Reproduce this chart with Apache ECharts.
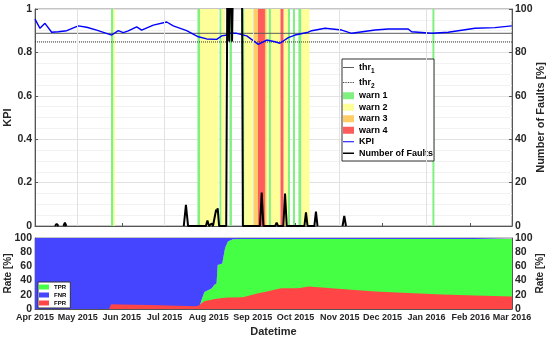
<!DOCTYPE html>
<html><head><meta charset="utf-8">
<script src="https://cdn.jsdelivr.net/npm/echarts@6/dist/echarts.min.js"></script>
<style>html,body{margin:0;padding:0;background:#fff}#c{width:550px;height:337px}</style>
</head><body><div id="c"></div>
<script>
// ---- data (days counted from 2015-04-01) ----
const startDate = [2015, 3, 1];   // Apr 1 2015
const endDate = [2016, 2, 1];     // Mar 1 2016
const gridMonths = [[2015, 4, 1], [2015, 6, 1], [2015, 8, 1], [2015, 10, 1], [2016, 0, 1]]; // May, Jul, Sep, Nov, Jan

const kpiDay = [0,3.5,7,8.2,11.7,16.4,22.3,30.4,36.3,43.3,53.9,58.5,62,65.5,71.4,74.9,83.1,92.5,97.1,106.5,114.7,120.6,127.6,131.1,134.6,136.9,141.6,148.7,156.8,162.7,168.5,172,177.9,182.6,183.8,191.9,194.3,203.7,215.4,222.4,238.8,248.1,262.1,264.5,278.6,290.2,309,323,334.8];
const kpiVal = [0.953,0.911,0.934,0.941,0.893,0.895,0.900,0.922,0.916,0.903,0.880,0.900,0.891,0.899,0.918,0.903,0.926,0.940,0.922,0.900,0.872,0.862,0.860,0.876,0.880,0.888,0.888,0.876,0.837,0.857,0.849,0.842,0.868,0.880,0.885,0.893,0.900,0.911,0.903,0.888,0.903,0.908,0.908,0.895,0.888,0.893,0.911,0.914,0.922];

const thrNames = ['thr1', 'thr2'];
const thrVal = [0.888, 0.848];

const bandStart = [53.4,55.1,114.1,115.9,129.6,131,136.6,145.4,147.1,153.4,156.6,161.5,162.6,164,165.7,172.4,174.5,177.7,181.2,185,187.1,279.1];
const bandEnd   = [55.1,56.2,115.9,128.9,131,133.4,138.3,147.1,153.4,156.6,161.5,162.6,164,165.7,172.4,174.5,177.7,179.1,182.6,187.1,192.8,280.5];
const bandLevel = [1,2,1,2,1,2,1,1,2,3,4,3,2,1,2,4,2,1,1,1,2,1];
const warnNames = ['warn 1','warn 2','warn 3','warn 4'];

// null = break in the line
const faultDay = [14,15.2,16.5,18,20,21,22,60,104.5,106,107.5,111,112.4,113.5,120,121.1,122.2,123.3,124.1,125,126.3,127.2,127.8,128.3,129.3,132,133,134.3,135.2,136.4,137.4,138.4,139.4,145.3,146,158,159.2,160.4,168.7,169.7,170.7,174.4,175.6,176.8,179.5,180.3,181,189.2,190.3,191.4,196.2,197.3,198.4,205,216,217.2,218.4];
const faultVal = [0,1,0,null,0,1.5,0,null,0,9.7,0,0,0.6,0,0,2.5,0,0,1.2,0,0,7.5,6.5,8.2,0,0,0.8,0,130,85,130,85,130,130,0,0,15.4,0,0,1.5,0,0,15,0,0,0.6,0,0,6.3,0,0,6.6,0,null,0,4.6,0];

const rateDay = [0,52,53.5,60,80,100,113,115,117,119,124,126,127.5,128.3,131.5,133.5,135.5,139,146,156,163,168,173,183,186,192,199,215,239,262,286,309,335];
const tprVal = [0,0,0,0,0,0,0,0,13,24,29,34,36,62,64,86,95,98.3,98.5,98.5,98.5,98.5,98.5,98.5,98.5,98.5,98.5,98.5,98.5,98.5,98.5,98.5,98.5];
const fnrVal = [100,100,100,100,100,100,100,100,87,76,71,66,64,38,36,14,5,1.7,1.5,1.5,1.5,1.5,1.5,1.5,1.5,1.5,1.5,1.5,1.5,1.5,1.5,1.5,1.5];
const fprVal = [0,0,6.7,6.5,5.5,4.5,3.8,5,8,11,13,14,14.5,15,15.5,16,16.3,16.3,16.5,22,24.7,27,29.2,29.3,29.7,31.7,30.8,28,24.7,22.4,20.5,19,17.7];
const rateNames = ['TPR','FNR','FPR'];

// ---- styles ----
const FONT = 'Liberation Sans, Arial, sans-serif';
const warnColors = ['#80f080','#ffff99','#ffcc66','#ff5c5c'];
const rateColors = ['#44ff44','#4545ff','#ff4545'];
const DAY = 86400000;
const t0 = new Date(startDate[0], startDate[1], startDate[2]).getTime();
const tEnd = new Date(endDate[0], endDate[1], endDate[2]).getTime();
const toT = d => t0 + d * DAY;

// legend line icons (tiny invisible corner dots keep the icon box height)
const corners = 'M0,-5h0.01v0.01h-0.01z M0,4.99h0.01v0.01h-0.01z ';
const iconSolid = w => 'path://' + corners + 'M0,' + (-w / 2) + 'h20v' + w + 'h-20z';
let dots = '';
for (let x = 0; x < 20; x += 3) dots += 'M' + x + ',-0.7h1.5v1.4h-1.5z ';
const iconDotted = 'path://' + corners + dots;

const labelStyle = {fontFamily: FONT, fontWeight: 'bold', color: '#262626'};
const nameStyle = {fontFamily: FONT, fontWeight: 'bold', fontSize: 11, color: '#262626'};

const chart = echarts.init(document.getElementById('c'), null, {renderer: 'canvas'});

const series = [];
// vertical major grid lines (behind bands)
series.push({
  type: 'line', xAxisIndex: 0, yAxisIndex: 0, data: [], z: 1, silent: true,
  markLine: {silent: true, symbol: 'none', label: {show: false},
    lineStyle: {color: '#e2e2e2', width: 1, type: 'solid'},
    data: gridMonths.map(m => ({xAxis: new Date(m[0], m[1], m[2]).getTime()}))}
});
thrNames.forEach((n, i) => {
  series.push({
    name: n, type: 'line', xAxisIndex: 0, yAxisIndex: 0, symbol: 'none', silent: true, z: 3,
    data: [[t0, thrVal[i]], [tEnd, thrVal[i]]],
    itemStyle: {color: i === 0 ? '#5a5a5a' : '#303030'},
    lineStyle: {color: i === 0 ? '#5a5a5a' : '#303030', width: 1, type: i === 0 ? 'solid' : 'dotted'}
  });
});
warnNames.forEach((n, k) => {
  const areas = [];
  bandStart.forEach((s, i) => {
    if (bandLevel[i] === k + 1) areas.push([{xAxis: toT(s)}, {xAxis: toT(bandEnd[i])}]);
  });
  series.push({
    name: n, type: 'line', xAxisIndex: 0, yAxisIndex: 0, data: [], symbol: 'none', z: 2,
    itemStyle: {color: warnColors[k]},
    markArea: {silent: true, itemStyle: {color: warnColors[k], opacity: 1}, data: areas}
  });
});
series.push({
  name: 'KPI', type: 'line', xAxisIndex: 0, yAxisIndex: 0, symbol: 'none', z: 4,
  data: kpiDay.map((d, i) => [toT(d), kpiVal[i]]),
  itemStyle: {color: '#0000ff'}, lineStyle: {color: '#0000ff', width: 1.4}
});
series.push({
  name: 'Number of Faults', type: 'line', xAxisIndex: 0, yAxisIndex: 1, symbol: 'none', z: 5,
  data: faultDay.map((d, i) => [toT(d), faultVal[i] === null ? '-' : faultVal[i]]),
  itemStyle: {color: '#000'}, lineStyle: {color: '#000', width: 2}
});
const rateVals = [tprVal, fnrVal, fprVal];
rateNames.forEach((n, k) => {
  series.push({
    name: n, type: 'line', xAxisIndex: 1, yAxisIndex: 2, symbol: 'none',
    stack: k < 2 ? 'rate' : undefined, z: k < 2 ? 2 : 3,
    data: rateDay.map((d, i) => [toT(d), rateVals[k][i]]),
    itemStyle: {color: rateColors[k]},
    lineStyle: {width: 0},
    areaStyle: {color: rateColors[k], opacity: 1}
  });
});

const xBase = {
  type: 'time', min: t0, max: tEnd, splitNumber: 11,
  minInterval: 28 * DAY, maxInterval: 31 * DAY,
  axisLine: {show: true, lineStyle: {color: '#555', width: 1}},
  axisTick: {show: true, inside: true, length: 3, lineStyle: {color: '#555'}},
  splitLine: {show: false}
};
const yBase = {
  type: 'value',
  axisLine: {show: true, lineStyle: {color: '#555'}},
  axisLabel: Object.assign({fontSize: 10.5, margin: 3}, labelStyle),
  nameLocation: 'middle', nameRotate: 90, nameMoveOverlap: false,
  splitLine: {show: false}
};

const option = {
  animation: false,
  backgroundColor: '#fff',
  grid: [
    {left: 35, right: 38, top: 9, height: 217, show: true, borderColor: '#8a8a8a', borderWidth: 1, backgroundColor: '#fff', containLabel: false, outerBoundsMode: 'none'},
    {left: 35, right: 38, top: 238, height: 71, show: true, borderColor: '#8a8a8a', borderWidth: 1, backgroundColor: '#fff', containLabel: false, outerBoundsMode: 'none'}
  ],
  xAxis: [
    Object.assign({}, xBase, {gridIndex: 0, axisLabel: {show: false}}),
    Object.assign({}, xBase, {gridIndex: 1,
      axisLabel: Object.assign({show: true, fontSize: 9, margin: 4, formatter: '{MMM} {yyyy}', hideOverlap: false, showMinLabel: true, showMaxLabel: true}, labelStyle),
      name: 'Datetime', nameLocation: 'middle', nameGap: 17, nameMoveOverlap: false, nameTextStyle: nameStyle})
  ],
  yAxis: [
    Object.assign({}, yBase, {gridIndex: 0, position: 'left', min: 0, max: 1, interval: 0.2,
     name: 'KPI', nameGap: 22, nameTextStyle: nameStyle,
     axisTick: {show: true, inside: true, length: 3, lineStyle: {color: '#555'}},
     splitLine: {show: true, lineStyle: {color: '#e2e2e2'}},
     minorTick: {show: false, splitNumber: 4},
     minorSplitLine: {show: true, lineStyle: {color: '#f2f2f2'}}}),
    Object.assign({}, yBase, {gridIndex: 0, position: 'right', min: 0, max: 100, interval: 20,
     name: 'Number of Faults [%]', nameGap: 23, nameTextStyle: nameStyle,
     axisTick: {show: true, inside: true, length: 3, lineStyle: {color: '#555'}}}),
    Object.assign({}, yBase, {gridIndex: 1, position: 'left', min: 0, max: 100, interval: 20,
     name: 'Rate [%]', nameGap: 22, nameTextStyle: Object.assign({}, nameStyle, {fontSize: 10}),
     axisTick: {show: false}}),
    Object.assign({}, yBase, {gridIndex: 1, position: 'right', min: 0, max: 100, interval: 20,
     name: 'Rate [%]', nameGap: 23, nameTextStyle: Object.assign({}, nameStyle, {fontSize: 10}),
     axisTick: {show: false}})
  ],
  legend: [
    {
      orient: 'vertical', left: 342, top: 59, itemGap: 0, itemWidth: 11, itemHeight: 7,
      backgroundColor: '#fff', borderColor: '#333', borderWidth: 1, borderRadius: 0, padding: [1, 1, 2, 1],
      selectedMode: false,
      data: [
        {name: 'thr1', icon: iconSolid(1.4), itemStyle: {color: '#5a5a5a'}},
        {name: 'thr2', icon: iconDotted, itemStyle: {color: '#303030'}}
      ].concat(warnNames.map(n => ({name: n, icon: 'rect'})), [
        {name: 'KPI', icon: iconSolid(2.2), itemStyle: {color: '#0000ff'}},
        {name: 'Number of Faults', icon: iconSolid(3), itemStyle: {color: '#000'}}
      ]),
      formatter: n => n.indexOf('thr') === 0 ? 'thr{s|' + n.slice(3) + '}' : n,
      textStyle: {fontFamily: FONT, fontWeight: 'bold', fontSize: 9, color: '#000', lineHeight: 11.5,
        rich: {s: {fontFamily: FONT, fontWeight: 'bold', fontSize: 6.5, lineHeight: 8, padding: [8, 0, 0, 0], color: '#000'}}}
    },
    {
      orient: 'vertical', left: 38, top: 282, itemGap: 0, itemWidth: 10, itemHeight: 5,
      backgroundColor: '#fff', borderColor: '#333', borderWidth: 1, borderRadius: 0, padding: [1, 4, 1, 1],
      selectedMode: false,
      data: rateNames.map(n => ({name: n, icon: 'rect'})),
      textStyle: {fontFamily: FONT, fontWeight: 'bold', fontSize: 6, color: '#000', lineHeight: 8}
    }
  ],
  series: series
};
chart.setOption(option);
</script></body></html>
